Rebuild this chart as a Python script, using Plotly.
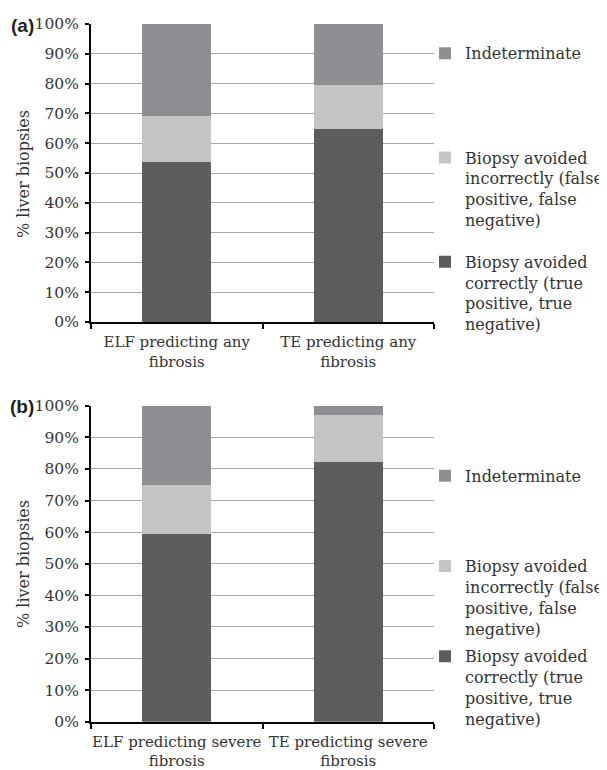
import plotly.graph_objects as go

categories_a = ["ELF predicting any<br>fibrosis", "TE predicting any<br>fibrosis"]
categories_b = ["ELF predicting severe<br>fibrosis", "TE predicting severe<br>fibrosis"]

correct_a = [53.7, 64.8]
incorrect_a = [15.4, 14.8]
indeterminate_a = [30.9, 20.4]

correct_b = [59.3, 82.3]
incorrect_b = [15.6, 14.8]
indeterminate_b = [25.1, 2.9]

series_names = [
    "Biopsy avoided<br>correctly (true<br>positive, true<br>negative)",
    "Biopsy avoided<br>incorrectly (false<br>positive, false<br>negative)",
    "Indeterminate<br> <br> <br> ",
]
colors = ["#5d5d5f", "#c3c4c6", "#8e8f93"]
ranks = [3, 2, 1]

y_ticks = [0, 10, 20, 30, 40, 50, 60, 70, 80, 90, 100]
y_ticktext = [f"{v}%" for v in y_ticks]

SERIF = "DejaVu Serif"
W, H = 599, 762  # page body has an 8px margin

fig = go.Figure()

panels = [
    (categories_a, [correct_a, incorrect_a, indeterminate_a], "x", "y", "legend"),
    (categories_b, [correct_b, incorrect_b, indeterminate_b], "x2", "y2", "legend2"),
]
for cats, vals, xa, ya, lg in panels:
    for i, (name, v) in enumerate(zip(series_names, vals)):
        fig.add_trace(go.Bar(
            x=cats, y=v, name=name, marker=dict(color=colors[i], line=dict(width=0)),
            width=0.4, xaxis=xa, yaxis=ya, legend=lg, legendgroup=lg + str(i),
            legendrank=ranks[i], hoverinfo="skip",
        ))

axis_common_x = dict(
    type="category", showline=True, linecolor="black", linewidth=2,
    ticks="outside", tickson="boundaries", ticklen=5, tickcolor="black", tickwidth=1.5,
    tickangle=0, automargin=False, ticklabelstandoff=5,
    tickfont=dict(family=SERIF, size=15, color="#333"), showgrid=False, zeroline=False,
)
axis_common_y = dict(
    range=[0, 100], tickvals=y_ticks, ticktext=y_ticktext, showline=True,
    linecolor="black", linewidth=2, ticks="outside", ticklen=4, tickcolor="black",
    tickwidth=1.5, tickfont=dict(family=SERIF, size=15.5, color="#333"), automargin=False,
    ticklabelstandoff=3,
    showgrid=True, gridcolor="#a6a6a6", gridwidth=1.2, zeroline=False,
)

legend_common = dict(
    font=dict(family=SERIF, size=16, color="#333"), valign="top",
    traceorder="grouped", xanchor="left", yanchor="top",
    bgcolor="rgba(0,0,0,0)", itemclick=False, itemdoubleclick=False,
)


def px(x):
    return (x - 8) / W


def py(y):
    return 1 - (y - 8) / H


def label(text, x, y, font, angle=0):
    return dict(text=text, x=px(x), y=py(y), xref="paper", yref="paper",
                xanchor="center", yanchor="middle", textangle=angle,
                showarrow=False, font=font)


title_font = dict(family=SERIF, size=16, color="#333")
panel_font = dict(family="Liberation Sans", size=19, color="#222")

fig.update_layout(
    width=W, height=H, margin=dict(l=0, r=0, t=0, b=0, autoexpand=False),
    paper_bgcolor="white", plot_bgcolor="white", barmode="stack",
    showlegend=True,
    xaxis=dict(domain=[px(91), px(434)], anchor="y", **axis_common_x),
    yaxis=dict(domain=[py(322), py(24)], anchor="x", **axis_common_y),
    xaxis2=dict(domain=[px(91), px(434)], anchor="y2", **axis_common_x),
    yaxis2=dict(domain=[py(721.7), py(405.7)], anchor="x2", **axis_common_y),
    legend=dict(x=px(425), y=py(36.35), tracegroupgap=18, **legend_common),
    legend2=dict(x=px(425), y=py(458.85), tracegroupgap=4, **legend_common),
    annotations=[
        label("% liver biopsies", 23, 174, title_font, -90),
        label("% liver biopsies", 23, 564, title_font, -90),
        label("<b>(a)</b>", 22, 26, panel_font),
        label("<b>(b)</b>", 22, 407, panel_font),
    ],
)

fig.write_html("out.html")
